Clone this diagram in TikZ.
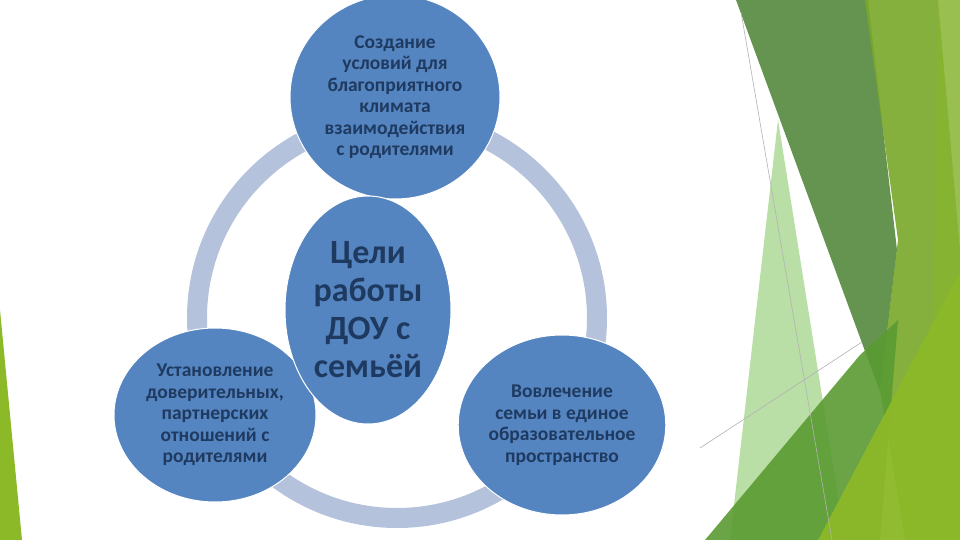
\documentclass[tikz,border=0pt]{standalone}
\usepackage{fontspec}
\setmainfont{Carlito}
\usetikzlibrary{shapes.geometric}
\begin{document}
\begin{tikzpicture}[x=1pt,y=-1pt,
  blob/.style={ellipse,draw=white,line width=1pt,fill=cblue,align=center,text=ctext,font=\bfseries\fontsize{19.5pt}{21.5pt}\selectfont,inner sep=0pt},
  thin/.style={draw=gray!60,line width=0.6pt}]
\definecolor{cblue}{HTML}{5585C0}
\definecolor{ctext}{HTML}{1F3A60}
\definecolor{cring}{HTML}{B5C2DC}
\useasboundingbox (0,0) rectangle (960,540);
\fill[white] (0,0) rectangle (960,540);
% decoration
\fill[green!50!black!70!lime, opacity=0.35] (778,120) -- (845,540) -- (730,540) -- cycle;
\fill[color={rgb,255:red,62;green,122;blue,37}, opacity=0.8] (736,0) -- (868,0) -- (897,250) -- (880,392) -- cycle;
\fill[color={rgb,255:red,120;green,168;blue,40}, opacity=0.9] (865,0) -- (938,0) -- (960,250) -- (960,540) -- (905,540) -- (880,390) -- (898,240) -- cycle;
\fill[color={rgb,255:red,136;green,180;blue,50}, opacity=0.85] (938,0) -- (960,0) -- (960,540) -- (930,540) -- cycle;
\fill[color={rgb,255:red,90;green,155;blue,50}, opacity=0.9] (705,540) -- (860,355) -- (898,320) -- (880,540) -- cycle;
\fill[color={rgb,255:red,140;green,185;blue,40}, opacity=0.95] (818,540) -- (960,272) -- (960,540) -- cycle;
\fill[color={rgb,255:red,140;green,185;blue,40}] (0,310) -- (22,540) -- (0,540) -- cycle;
\coordinate (l1a) at (741,12); \coordinate (l1b) at (832,540);
\coordinate (l2a) at (700,448); \coordinate (l2b) at (862,342);
\draw[thin] (l1a) -- (l1b);
\draw[thin] (l2a) -- (l2b);
% ring
\draw[cring,line width=20pt] (397,318) circle[radius=200];
% circles
\node[blob,minimum width=210pt,minimum height=204pt] (top) at (395,97) {Создание\\условий для\\благоприятного\\климата\\взаимодействия\\с родителями};
\node[blob,minimum width=202pt,minimum height=174pt] (left) at (215,415) {Установление\\доверительных,\\партнерских\\отношений с\\родителями};
\node[blob,minimum width=204pt,minimum height=180pt] (right) at (562,425) {Вовлечение\\семьи в единое\\образовательное\\пространство};
\node[blob,minimum width=166pt,minimum height=228pt,font=\bfseries\fontsize{34pt}{38pt}\selectfont] (mid) at (368,310) {Цели\\работы\\ДОУ с\\семьёй};
\end{tikzpicture}
\end{document}
